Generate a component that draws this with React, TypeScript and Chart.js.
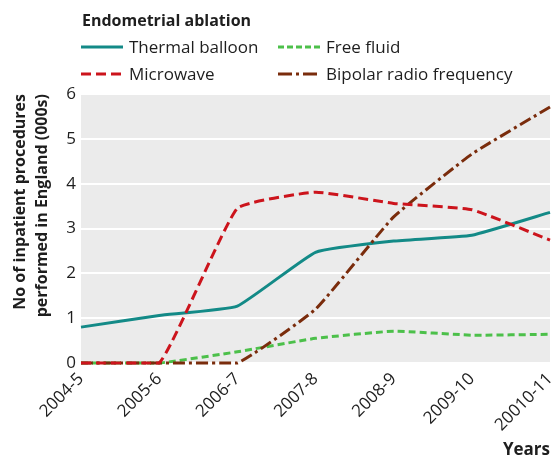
import React, { useEffect, useRef } from "react";
import { Chart, registerables } from "chart.js";

Chart.register(...registerables);

const years = ["2004-5", "2005-6", "2006-7", "2007-8", "2008-9", "2009-10", "20010-11"];
const thermalBalloon = [0.8, 1.06, 1.27, 2.47, 2.72, 2.85, 3.36];
const microwave = [0, 0, 3.45, 3.81, 3.56, 3.42, 2.74];
const freeFluid = [0, 0, 0.25, 0.55, 0.71, 0.62, 0.64];
const bipolar = [0, 0, 0, 1.2, 3.26, 4.66, 5.71];
const yTicks = [0, 1, 2, 3, 4, 5, 6];

const FONT = "'Open Sans', sans-serif";
const TEXT = "#1e1e1e";
const C_TEAL = "#138a87";
const C_RED = "#cc141c";
const C_GREEN = "#4cc04a";
const C_BROWN = "#7a2c0c";

const bgPlugin = {
  id: "plotBg",
  beforeDraw(chart: any) {
    const { ctx, chartArea: a } = chart;
    ctx.save();
    ctx.fillStyle = "#ebebeb";
    ctx.fillRect(a.left, a.top, a.right - a.left, a.bottom - a.top);
    ctx.restore();
  },
};

function LegendItem({ x, y, color, dash, label }: { x: number; y: number; color: string; dash: string; label: string }) {
  return (
    <div style={{ position: "absolute", left: x, top: y - 12, height: 24, display: "flex", alignItems: "center" }}>
      <svg width={42} height={6} style={{ display: "block" }}>
        <line x1={0} y1={3} x2={42} y2={3} stroke={color} strokeWidth={3} strokeDasharray={dash} />
      </svg>
      <span style={{ marginLeft: 6, fontFamily: FONT, fontSize: 17, color: TEXT, whiteSpace: "nowrap", lineHeight: "24px" }}>{label}</span>
    </div>
  );
}

export default function App() {
  const ref = useRef<HTMLCanvasElement | null>(null);

  useEffect(() => {
    if (!ref.current) return;
    const chart = new Chart(ref.current, {
      type: "line",
      data: {
        labels: years,
        datasets: [
          { label: "Microwave", data: microwave, borderColor: C_RED, borderWidth: 3, borderDash: [10, 5], order: 1 },
          { label: "Bipolar radio frequency", data: bipolar, borderColor: C_BROWN, borderWidth: 3, borderDash: [12, 4, 3, 4], order: 2 },
          { label: "Thermal balloon", data: thermalBalloon, borderColor: C_TEAL, borderWidth: 3, order: 3 },
          { label: "Free fluid", data: freeFluid, borderColor: C_GREEN, borderWidth: 3, borderDash: [7, 4], order: 4 },
        ].map((d) => ({ ...d, fill: false, pointRadius: 0, clip: false as any, tension: 0.12 })),
      },
      options: {
        animation: false,
        responsive: false,
        layout: { padding: { top: 94, right: 7, left: 0, bottom: 0 } },
        plugins: { legend: { display: false }, tooltip: { enabled: false } },
        scales: {
          x: {
            type: "category",
            offset: false,
            grid: { display: false, drawTicks: false },
            border: { display: false },
            ticks: { font: { family: FONT, size: 17 }, color: TEXT, maxRotation: 45, minRotation: 45, padding: 6, autoSkip: false },
            title: { display: true, text: "Years", align: "end", color: TEXT, font: { family: FONT, size: 17, weight: "bold" }, padding: { top: 0, bottom: 3 } },
            afterFit: (s: any) => { s.height = 100; s.paddingRight = 0; s.paddingLeft = 0; },
          },
          y: {
            min: 0,
            max: 6,
            afterBuildTicks: (s: any) => { s.ticks = yTicks.map((v) => ({ value: v })); },
            ticks: { font: { family: FONT, size: 17 }, color: TEXT, padding: 5 },
            grid: { color: "#ffffff", lineWidth: 2, drawTicks: false },
            border: { display: false },
            title: {
              display: true,
              text: ["No of inpatient procedures", "performed in England (000s)"],
              align: "end",
              color: TEXT,
              font: { family: FONT, size: 16, weight: "bold", lineHeight: 1.375 },
              padding: { top: 9, bottom: 0 },
            },
            afterFit: (s: any) => { s.width = 81; s.paddingTop = 0; s.paddingBottom = 0; },
          },
        },
      },
      plugins: [bgPlugin],
    });
    return () => chart.destroy();
  }, []);

  return (
    <div style={{ position: "absolute", left: 0, top: 0, width: 557, height: 463, background: "#fff", overflow: "hidden" }}>
      <canvas ref={ref} width={557} height={463} style={{ position: "absolute", left: 0, top: 0, width: 557, height: 463 }} />
      <div style={{ position: "absolute", left: 82, top: 8, fontFamily: FONT, fontSize: 16, fontWeight: "bold", color: TEXT, lineHeight: "24px", whiteSpace: "nowrap" }}>
        Endometrial ablation
      </div>
      <LegendItem x={81} y={47} color={C_TEAL} dash="none" label="Thermal balloon" />
      <LegendItem x={278} y={47} color={C_GREEN} dash="6 3" label="Free fluid" />
      <LegendItem x={81} y={74} color={C_RED} dash="10 5" label="Microwave" />
      <LegendItem x={278} y={74} color={C_BROWN} dash="14 4 3 4" label="Bipolar radio frequency" />
    </div>
  );
}
